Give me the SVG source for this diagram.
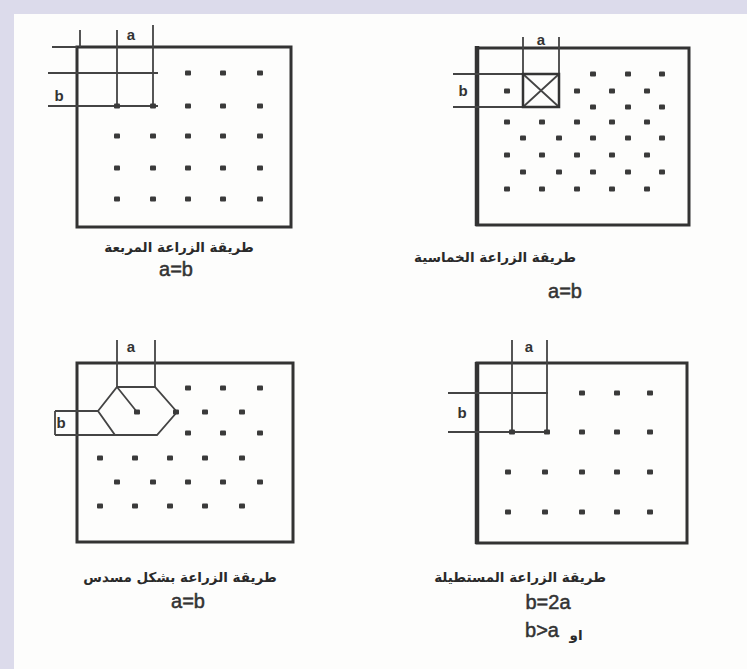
<svg xmlns="http://www.w3.org/2000/svg" width="747" height="669" viewBox="0 0 747 669">
<style>
.frame{fill:none;stroke:#333;stroke-width:3}
.thick{fill:none;stroke:#333;stroke-width:4.5}
.grid{fill:none;stroke:#444;stroke-width:1.8}
.dot{fill:#3a3a3a}
.lbl{font-family:"Liberation Sans",Arial,sans-serif;font-size:15px;font-weight:bold;fill:#333}
.ar{font-family:"DejaVu Sans",sans-serif;font-size:13.5px;font-weight:bold;fill:#2a2a2a;direction:rtl}
.eq{font-family:"Liberation Sans",Arial,sans-serif;font-size:20px;fill:#333;stroke:#333;stroke-width:0.5}
</style>
<defs>
<rect id="d" x="-3" y="-2.4" width="6" height="4.8" rx="1"/>
</defs>
<rect width="747" height="669" fill="#dcdbeb"/>
<rect x="14" y="14" width="733" height="655" fill="#fdfdfc"/>

<g id="square">
<rect class="frame" x="77" y="47" width="214" height="180"/>
<path class="grid" d="M52 47H77M48 73H158M48 106H158M80 30V47M117 30V106M153 25V106"/>
<text class="lbl" x="131" y="40" text-anchor="middle">a</text>
<text class="lbl" x="59" y="101" text-anchor="middle">b</text>
<g class="dot">
<use href="#d" x="188" y="73"/><use href="#d" x="223" y="73"/><use href="#d" x="260" y="73"/>
<use href="#d" x="117" y="106"/><use href="#d" x="153" y="106"/>
<use href="#d" x="188" y="106"/><use href="#d" x="223" y="106"/><use href="#d" x="260" y="106"/>
<use href="#d" x="117" y="136"/><use href="#d" x="153" y="136"/><use href="#d" x="188" y="136"/><use href="#d" x="223" y="136"/><use href="#d" x="260" y="136"/>
<use href="#d" x="117" y="168"/><use href="#d" x="153" y="168"/><use href="#d" x="188" y="168"/><use href="#d" x="223" y="168"/><use href="#d" x="260" y="168"/>
<use href="#d" x="117" y="199"/><use href="#d" x="153" y="199"/><use href="#d" x="188" y="199"/><use href="#d" x="223" y="199"/><use href="#d" x="260" y="199"/>
</g>
<text class="ar" x="179" y="252" text-anchor="middle">طريقة الزراعة المربعة</text>
<text class="eq" x="176" y="276" text-anchor="middle">a=b</text>
</g>

<g id="quincunx">
<rect class="frame" x="477" y="48" width="212" height="177"/>
<path class="thick" d="M477 46V226"/>
<path class="grid" d="M523 37V107M559 37V107M453 74H560M453 107H560"/>
<path class="grid" d="M523 74L559 107M559 74L523 107" stroke-width="2"/>
<rect x="523" y="74" width="36" height="33" fill="none" stroke="#333" stroke-width="2.5"/>
<text class="lbl" x="541" y="45" text-anchor="middle">a</text>
<text class="lbl" x="463" y="96" text-anchor="middle">b</text>
<g class="dot">
<use href="#d" x="593" y="74"/><use href="#d" x="628" y="74"/><use href="#d" x="662" y="74"/>
<use href="#d" x="507" y="91"/><use href="#d" x="577" y="91"/><use href="#d" x="612" y="91"/><use href="#d" x="647" y="91"/>
<use href="#d" x="593" y="107"/><use href="#d" x="628" y="107"/><use href="#d" x="662" y="107"/>
<use href="#d" x="507" y="122"/><use href="#d" x="542" y="122"/><use href="#d" x="577" y="122"/><use href="#d" x="612" y="122"/><use href="#d" x="647" y="122"/>
<use href="#d" x="523" y="138"/><use href="#d" x="559" y="138"/><use href="#d" x="593" y="138"/><use href="#d" x="628" y="138"/><use href="#d" x="662" y="138"/>
<use href="#d" x="507" y="155"/><use href="#d" x="542" y="155"/><use href="#d" x="577" y="155"/><use href="#d" x="612" y="155"/><use href="#d" x="647" y="155"/>
<use href="#d" x="523" y="172"/><use href="#d" x="559" y="172"/><use href="#d" x="593" y="172"/><use href="#d" x="628" y="172"/><use href="#d" x="662" y="172"/>
<use href="#d" x="507" y="189"/><use href="#d" x="542" y="189"/><use href="#d" x="577" y="189"/><use href="#d" x="612" y="189"/><use href="#d" x="647" y="189"/>
</g>
<text class="ar" x="495" y="262" text-anchor="middle">طريقة الزراعة الخماسية</text>
<text class="eq" x="565" y="298" text-anchor="middle">a=b</text>
</g>

<g id="hexagonal">
<rect class="frame" x="77" y="363" width="216" height="179"/>
<path class="grid" d="M117 340V387M155 340V387M55 411H98M55 435H115M55 411V435"/>
<path class="grid" stroke-width="2" d="M117 387H155L177 412L157 435H115L98 411Z M117 387L137 412"/>
<text class="lbl" x="131" y="352" text-anchor="middle">a</text>
<text class="lbl" x="61" y="428" text-anchor="middle">b</text>
<g class="dot">
<use href="#d" x="188" y="388"/><use href="#d" x="223" y="388"/><use href="#d" x="260" y="388"/>
<use href="#d" x="137" y="412"/><use href="#d" x="176" y="412"/><use href="#d" x="205" y="412"/><use href="#d" x="242" y="412"/>
<use href="#d" x="188" y="433"/><use href="#d" x="223" y="433"/><use href="#d" x="260" y="433"/>
<use href="#d" x="100" y="458"/><use href="#d" x="135" y="458"/><use href="#d" x="170" y="458"/><use href="#d" x="205" y="458"/><use href="#d" x="242" y="458"/>
<use href="#d" x="117" y="482"/><use href="#d" x="153" y="482"/><use href="#d" x="188" y="482"/><use href="#d" x="223" y="482"/><use href="#d" x="260" y="482"/>
<use href="#d" x="100" y="506"/><use href="#d" x="135" y="506"/><use href="#d" x="170" y="506"/><use href="#d" x="205" y="506"/><use href="#d" x="242" y="506"/>
</g>
<text class="ar" x="180" y="582" text-anchor="middle">طريقة الزراعة بشكل مسدس</text>
<text class="eq" x="188" y="608" text-anchor="middle">a=b</text>
</g>

<g id="rectangular">
<rect class="frame" x="477" y="363" width="210" height="180"/>
<path class="thick" d="M477 362V544"/>
<path class="grid" d="M512 340V432M547 340V432M448 393H548M448 432H548"/>
<text class="lbl" x="529" y="352" text-anchor="middle">a</text>
<text class="lbl" x="462" y="418" text-anchor="middle">b</text>
<g class="dot">
<use href="#d" x="512" y="432"/><use href="#d" x="547" y="432"/>
<use href="#d" x="582" y="393"/><use href="#d" x="617" y="393"/><use href="#d" x="650" y="393"/>
<use href="#d" x="582" y="432"/><use href="#d" x="617" y="432"/><use href="#d" x="650" y="432"/>
<use href="#d" x="508" y="472"/><use href="#d" x="545" y="472"/><use href="#d" x="582" y="472"/><use href="#d" x="617" y="472"/><use href="#d" x="650" y="472"/>
<use href="#d" x="508" y="512"/><use href="#d" x="545" y="512"/><use href="#d" x="582" y="512"/><use href="#d" x="617" y="512"/><use href="#d" x="650" y="512"/>
</g>
<text class="ar" x="520" y="582" text-anchor="middle">طريقة الزراعة المستطيلة</text>
<text class="eq" x="548" y="609" text-anchor="middle">b=2a</text>
<text class="eq" x="542" y="637" text-anchor="middle">b&gt;a</text>
<text class="ar" x="576" y="640" text-anchor="middle" font-size="10">او</text>
</g>
</svg>
